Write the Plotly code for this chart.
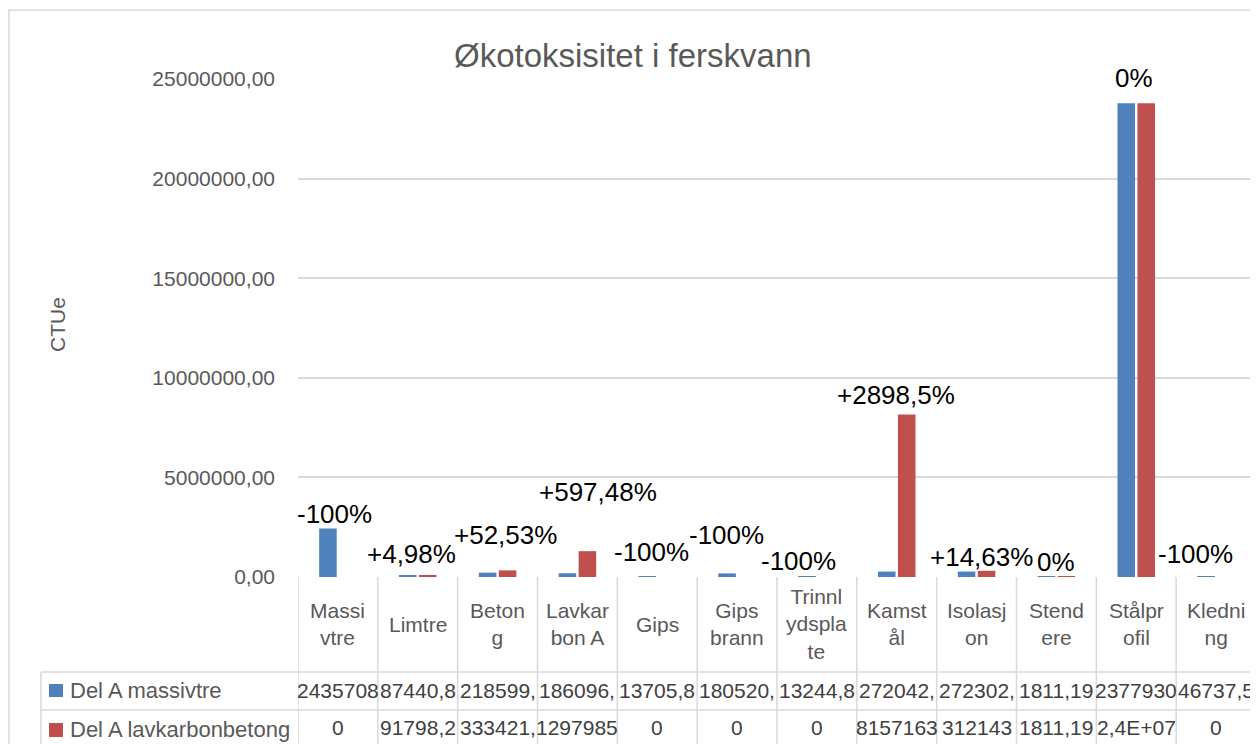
import plotly.graph_objects as go

# data
categories = ["Massivtre", "Limtre", "Betong", "Lavkarbon A", "Gips", "Gips brann",
              "Trinnlydsplate", "Kamstål", "Isolasjon", "Stendere", "Stålprofil", "Kledning"]
header_text = ["Massi<br>vtre", "Limtre", "Beton<br>g", "Lavkar<br>bon A", "Gips", "Gips<br>brann",
               "Trinnl<br>ydspla<br>te", "Kamst<br>ål", "Isolasj<br>on", "Stend<br>ere", "Stålpr<br>ofil", "Kledni<br>ng"]

massivtre = [2435708, 87440.8, 218599.1, 186096.1, 13705.8, 180520.1,
             13244.8, 272042.1, 272302.1, 1811.19, 23779300, 46737.5]
lavkarbon = [0, 91798.2, 333421.1, 1297985, 0, 0,
             0, 8157163, 312143, 1811.19, 23779300, 0]

# what the excel data table shows in its cells
massivtre_cells = ["2435708", "87440,8", "218599,", "186096,", "13705,8", "180520,",
                   "13244,8", "272042,", "272302,", "1811,19", "2377930", "46737,5"]
lavkarbon_cells = ["0", "91798,2", "333421,", "1297985", "0", "0",
                   "0", "8157163", "312143", "1811,19", "2,4E+07", "0"]

change_labels = ["-100%", "+4,98%", "+52,53%", "+597,48%", "-100%", "-100%",
                 "-100%", "+2898,5%", "+14,63%", "0%", "0%", "-100%"]

series_names = ["Del A massivtre", "Del A lavkarbonbetong"]
colors = ["#4F81BD", "#C0504D"]

# page body has an 8px margin, so the figure is 8px smaller than the window
OFF = 8
W, H = 1258 - OFF, 744 - OFF
# plot area in window pixels
L, R, T, B = 298, 1256, 79, 577
FONT = "Liberation Sans, Arial, sans-serif"
GRID = "#d9d9d9"


def px(x):
    return (x - L) / (R - L)


def py(y):
    return (B - y) / (B - T)


fig = go.Figure()
for name, vals, col in zip(series_names, [massivtre, lavkarbon], colors):
    fig.add_trace(go.Bar(x=categories, y=vals, name=name, marker=dict(color=col, line_width=0),
                         hoverinfo="skip"))

shapes = []
# outer chart border
shapes.append(dict(type="rect", xref="paper", yref="paper", x0=px(9), x1=px(R), y0=py(800), y1=py(10),
                   line=dict(color=GRID, width=1.5), layer="below"))
# data table lines
for yy in [672, 710]:
    shapes.append(dict(type="line", xref="paper", yref="paper", x0=px(41), x1=1, y0=py(yy), y1=py(yy),
                       line=dict(color=GRID, width=1.5)))
shapes.append(dict(type="line", xref="paper", yref="paper", x0=px(41), x1=px(41), y0=py(672), y1=py(800),
                   line=dict(color=GRID, width=1.5)))
for i in range(len(categories) + 1):
    shapes.append(dict(type="line", xref="x", yref="paper", x0=i - 0.5, x1=i - 0.5, y0=0, y1=py(800),
                       line=dict(color=GRID, width=1.5)))
# legend keys in the table
for col, (y0, y1) in zip(colors, [(684, 697), (723, 737)]):
    shapes.append(dict(type="rect", xref="paper", yref="paper", x0=px(49), x1=px(63), y0=py(y1), y1=py(y0),
                       fillcolor=col, line_width=0))

ann = []
ann.append(dict(text="Økotoksisitet i ferskvann", xref="paper", yref="paper", x=px(633), y=py(55),
                xanchor="center", yanchor="middle", showarrow=False,
                font=dict(size=33, color="#595959", family=FONT)))
ann.append(dict(text="CTUe", xref="paper", yref="paper", x=px(57), y=py(325), textangle=-90,
                xanchor="center", yanchor="middle", showarrow=False,
                font=dict(size=21, color="#595959", family=FONT)))

for i, t in enumerate(header_text):
    ann.append(dict(text=t, x=i, xref="x", yref="paper", y=py(624), yanchor="middle",
                    showarrow=False, font=dict(size=21, color="#595959", family=FONT)))
for cells, yc in [(massivtre_cells, 690), (lavkarbon_cells, 727)]:
    for i, t in enumerate(cells):
        ann.append(dict(text=t, x=i, xref="x", yref="paper", y=py(yc), yanchor="middle",
                        showarrow=False, font=dict(size=21, color="#404040", family=FONT)))
for name, yc in zip(series_names, [690, 729]):
    ann.append(dict(text=name, xref="paper", yref="paper", x=px(68), y=py(yc), xanchor="left",
                    yanchor="middle", showarrow=False, font=dict(size=22, color="#595959", family=FONT)))

# hand placed percent labels (nudged like in the excel original)
label_dx = [-3, -6, 8, 21, -6, -11, -18, -1, 5, 0, -2, -21]
label_dy = [14, 21, 35, 59, 25, 38, 16, 20, 14, 15, 25, 22]
for i, t in enumerate(change_labels):
    top = max(massivtre[i], lavkarbon[i])
    ann.append(dict(text=t, x=i, y=top, xref="x", yref="y", yanchor="middle",
                    xshift=label_dx[i], yshift=label_dy[i], showarrow=False,
                    font=dict(size=26, color="#000000", family=FONT)))

fig.update_layout(
    width=W, height=H,
    margin=dict(l=L - OFF, r=W - (R - OFF), t=T - OFF, b=H - (B - OFF), pad=0),
    paper_bgcolor="white", plot_bgcolor="white",
    barmode="group", bargap=0.5, bargroupgap=0.12,
    showlegend=False,
    separators=", ",
    shapes=shapes, annotations=ann,
    font=dict(family=FONT),
)
fig.update_xaxes(type="category", range=[-0.5, len(categories) - 0.5], showticklabels=False,
                 showgrid=False, zeroline=False, showline=False, ticks="")
fig.update_yaxes(range=[0, 25000000], dtick=5000000, tickformat=".2f", showgrid=True, gridcolor=GRID,
                 gridwidth=1.5, zeroline=False, showline=False, ticks="", ticklabelstandoff=22,
                 tickfont=dict(size=21, color="#595959", family=FONT))

fig.write_html("out.html")
